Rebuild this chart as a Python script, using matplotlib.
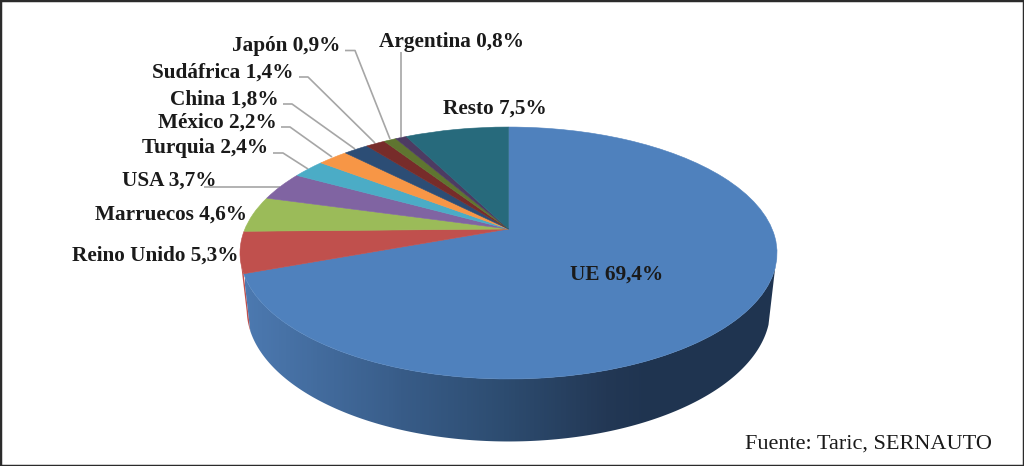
import numpy as np
import matplotlib
matplotlib.use('Agg')
import matplotlib.pyplot as plt
from matplotlib.colors import LinearSegmentedColormap
from matplotlib.patches import Polygon
from matplotlib.transforms import Transform

#share of imports per origin, clockwise from the top of the pie
names = ['UE', 'Reino Unido', 'Marruecos', 'USA', 'Turquia', 'México', 'China',
         'Sudáfrica', 'Japón', 'Argentina', 'Resto']
values = [69.4, 5.3, 4.6, 3.7, 2.4, 2.2, 1.8, 1.4, 0.9, 0.8, 7.5]
colors = ['#4F81BD', '#C0504D', '#9BBB59', '#8064A2', '#4BACC6', '#F79646',
          '#2C4D75', '#772C2A', '#5F7530', '#4D3B62', '#276A7C']

#pixel geometry of the tilted pie
apex_x, apex_y = 508.5, 229
scale_x, scale_y, tilt = 263.6, 121.4, 0.1905


def project(u, v):
    #perspective from the unit circle to image pixels
    w = 1 + tilt*v
    return apex_x + scale_x*u/w, apex_y - scale_y*v/w


def rim(theta, lower=False):
    #points of the pie edge, top face or lower edge of the wall
    x, y = project(np.cos(theta), np.sin(theta))
    if lower:
        x = apex_x + 0.975*(x - apex_x)
        y = apex_y + 1.05*(y - apex_y) + 55
    return np.column_stack([x, y])


class Tilted(Transform):
    input_dims = 2
    output_dims = 2

    def transform_non_affine(self, values):
        values = np.asarray(values, dtype=float)
        x, y = project(values[:, 0], values[:, 1])
        return np.column_stack([x, y])


fig = plt.figure(figsize=(10.24, 4.66), dpi=100)
ax = fig.add_axes([0, 0, 1, 1])

wedges, _ = ax.pie(values, colors=colors, startangle=90, counterclock=False,
                   wedgeprops={'linewidth': 0.4})
ax.set_aspect('auto')
ax.set_xlim(0, 1024)
ax.set_ylim(466, 0)
for w, c in zip(wedges, colors):
    w.set_transform(Tilted() + ax.transData)
    w.set_edgecolor(c)
    w.set_zorder(3)

#angle where the big slice ends on the left side
ue_end = np.radians(90 - 360*values[0]/sum(values))

#thin piece of the red wall
t = np.linspace(ue_end - np.radians(8), ue_end, 20)
red_wall = np.vstack([rim(t), rim(t, True)[::-1]])
ax.add_patch(Polygon(red_wall, closed=True, fc=colors[1], ec='none', zorder=1))

#wall of the big slice with its left to right shading
t = np.linspace(ue_end, np.radians(-17.5), 300)
wall = Polygon(np.vstack([rim(t), rim(t, True)[::-1]]), closed=True, fc='none', ec='none', zorder=2)
ax.add_patch(wall)
shade = LinearSegmentedColormap.from_list('shade', [(0, '#4C79B0'), (0.265, '#3A5F8C'),
                                                    (0.29, '#385C88'), (0.48, '#2D4C70'),
                                                    (0.67, '#233855'), (0.75, '#1F3450'),
                                                    (1, '#1F3450')])
img = ax.imshow(np.linspace(0, 1, 540).reshape(1, -1), cmap=shade, aspect='auto',
                extent=(245, 785, 450, 250), zorder=2)
img.set_clip_path(wall)
ax.set_xlim(0, 1024)
ax.set_ylim(466, 0)

#leader lines
line_color = '#A6A6A6'
leaders = [[(401, 52), (401, 137)],
           [(345, 50.5), (355, 50.5), (390, 139)],
           [(299, 77), (308, 77), (375, 143)],
           [(283, 104), (292, 104), (355, 149)],
           [(281, 127), (290, 127), (332, 157)],
           [(273, 153), (283, 153), (308, 169)],
           [(204, 187), (280, 187)]]
for pts in leaders:
    xs, ys = zip(*pts)
    ax.plot(xs, ys, color=line_color, lw=1.2, zorder=2, solid_capstyle='butt')

#labels, right edge and middle height in pixels
label_pos = {'UE': (663, 274.5), 'Reino Unido': (239, 255.5), 'Marruecos': (247, 214.5),
             'USA': (217, 180.5), 'Turquia': (268, 148.5), 'México': (277, 122.5),
             'China': (279, 99.5), 'Sudáfrica': (294, 72.5), 'Japón': (340, 45.5),
             'Argentina': (524, 41.5), 'Resto': (547, 108.5)}
font = 'Liberation Serif'
for name, val in zip(names, values):
    lx, ly = label_pos[name]
    txt = f'{name} {val:.1f}%'.replace('.', ',')
    ax.text(lx, ly, txt, ha='right', va='center', family=font, fontweight='bold',
            fontsize=15.3, color='#1a1a1a', zorder=5)

ax.text(992, 444, 'Fuente: Taric, SERNAUTO', ha='right', va='center', family=font,
        fontsize=16, color='#1a1a1a', zorder=5)

ax.set_frame_on(True)
ax.set_xticks([])
ax.set_yticks([])
for s in ax.spines.values():
    s.set_color('#2b2b2b')
    s.set_linewidth(2.5)

plt.savefig('out.png', dpi=100)
